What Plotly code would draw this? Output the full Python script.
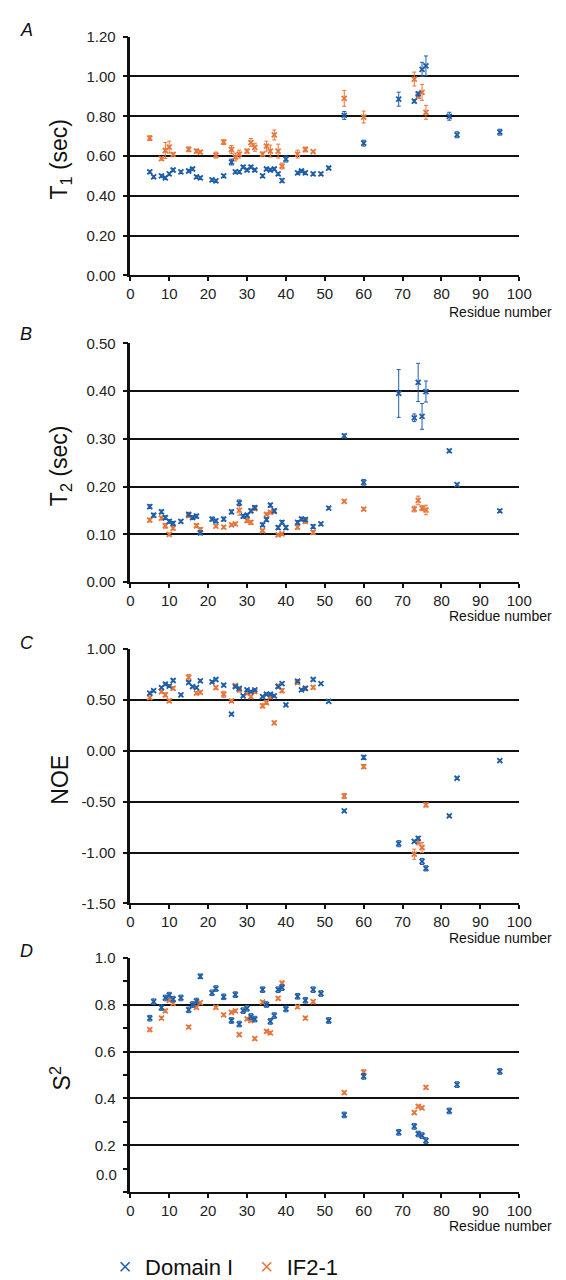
import plotly.graph_objects as go

BLUE = "#1f5ea8"
ORANGE = "#e8763a"
FONT = "Liberation Sans, Arial, sans-serif"

# ---------------- Panel A: T1 ----------------
a_dom_res = [5,6,8,9,10,11,13,15,16,17,18,21,22,24,26,27,28,29,30,31,32,34,35,36,37,38,39,40,43,44,45,47,49,51,55,60,69,73,74,75,76,82,84,95]
a_dom_val = [0.52,0.495,0.50,0.49,0.51,0.53,0.52,0.525,0.535,0.495,0.49,0.48,0.475,0.50,0.57,0.52,0.52,0.545,0.53,0.545,0.53,0.50,0.535,0.53,0.535,0.51,0.477,0.585,0.515,0.525,0.515,0.51,0.51,0.54,0.804,0.665,0.886,0.876,0.912,1.036,1.053,0.80,0.707,0.72]
a_dom_err = [0.008,0.008,0.008,0.008,0.008,0.008,0.008,0.008,0.008,0.008,0.008,0.008,0.008,0.008,0.015,0.008,0.008,0.008,0.008,0.008,0.008,0.008,0.008,0.008,0.008,0.008,0.008,0.015,0.008,0.008,0.008,0.008,0.008,0.008,0.02,0.015,0.035,0.008,0.01,0.035,0.05,0.02,0.015,0.015]
a_if_res = [5,8,9,10,11,15,17,18,22,24,26,27,28,30,31,32,34,35,36,37,38,39,43,45,47,55,60,73,74,75,76]
a_if_val = [0.69,0.587,0.628,0.645,0.608,0.634,0.625,0.62,0.605,0.67,0.633,0.595,0.61,0.625,0.668,0.644,0.61,0.65,0.625,0.706,0.625,0.55,0.61,0.633,0.622,0.89,0.796,0.987,0.90,0.92,0.82]
a_if_err = [0.012,0.008,0.04,0.03,0.008,0.012,0.01,0.008,0.015,0.012,0.02,0.02,0.02,0.01,0.02,0.02,0.01,0.025,0.03,0.025,0.035,0.015,0.02,0.012,0.005,0.04,0.03,0.035,0.01,0.04,0.035]

# ---------------- Panel B: T2 ----------------
b_dom_res = [5,6,8,9,10,11,13,15,16,17,18,21,22,24,26,28,29,30,31,32,34,35,36,37,38,39,40,43,44,45,47,49,51,55,60,69,73,74,75,76,82,84,95]
b_dom_val = [0.158,0.140,0.147,0.135,0.127,0.123,0.127,0.142,0.135,0.138,0.103,0.132,0.128,0.132,0.147,0.166,0.138,0.140,0.149,0.156,0.120,0.131,0.161,0.149,0.114,0.125,0.114,0.125,0.132,0.131,0.116,0.122,0.155,0.306,0.209,0.395,0.344,0.418,0.347,0.399,0.275,0.204,0.149]
b_dom_err = [0.004,0.004,0.004,0.004,0.004,0.004,0.003,0.004,0.004,0.004,0.004,0.004,0.004,0.004,0.004,0.006,0.004,0.004,0.004,0.004,0.004,0.004,0.004,0.004,0.004,0.004,0.004,0.004,0.004,0.004,0.004,0.003,0.003,0.004,0.006,0.05,0.008,0.04,0.027,0.022,0.003,0.003,0.003]
b_if_res = [5,8,9,10,11,15,17,18,22,24,26,27,28,30,31,32,34,35,36,37,38,39,43,45,47,55,60,73,74,75,76]
b_if_val = [0.130,0.134,0.118,0.100,0.113,0.139,0.118,0.110,0.117,0.115,0.120,0.122,0.150,0.129,0.125,0.154,0.108,0.142,0.146,0.148,0.099,0.101,0.115,0.127,0.104,0.169,0.153,0.153,0.171,0.155,0.151]
b_if_err = [0.004,0.004,0.005,0.003,0.004,0.004,0.004,0.004,0.003,0.003,0.003,0.003,0.01,0.004,0.004,0.004,0.003,0.003,0.003,0.003,0.003,0.003,0.004,0.004,0.004,0.003,0.003,0.006,0.009,0.005,0.01]

# ---------------- Panel C: NOE ----------------
c_dom_res = [5,6,8,9,10,11,13,15,16,17,18,21,22,24,26,27,28,29,30,31,32,34,35,36,37,38,39,40,43,44,45,47,49,51,55,60,69,73,74,75,76,82,84,95]
c_dom_val = [0.565,0.59,0.62,0.655,0.635,0.69,0.55,0.67,0.63,0.62,0.687,0.677,0.70,0.645,0.36,0.63,0.613,0.54,0.597,0.58,0.597,0.532,0.555,0.555,0.54,0.63,0.66,0.45,0.684,0.597,0.613,0.70,0.66,0.484,-0.59,-0.065,-0.913,-0.89,-0.86,-1.087,-1.155,-0.64,-0.27,-0.097]
c_dom_err = [0.012,0.012,0.012,0.012,0.012,0.012,0.01,0.012,0.012,0.012,0.012,0.012,0.012,0.012,0.01,0.012,0.012,0.01,0.012,0.012,0.012,0.012,0.012,0.012,0.012,0.012,0.012,0.01,0.012,0.012,0.012,0.012,0.01,0.01,0.012,0.02,0.03,0.012,0.015,0.03,0.025,0.01,0.01,0.01]
c_if_res = [5,8,9,10,11,15,17,18,22,24,26,27,28,30,31,32,34,35,36,37,38,39,43,45,47,55,60,73,74,75,76]
c_if_val = [0.523,0.58,0.55,0.49,0.613,0.72,0.565,0.574,0.62,0.555,0.49,0.64,0.597,0.565,0.532,0.58,0.442,0.474,0.532,0.274,0.635,0.59,0.67,0.613,0.622,-0.445,-0.155,-1.016,-0.894,-0.95,-0.532]
c_if_err = [0.015,0.015,0.02,0.015,0.015,0.03,0.015,0.015,0.015,0.03,0.015,0.015,0.02,0.015,0.015,0.015,0.02,0.02,0.02,0.015,0.02,0.02,0.015,0.02,0.015,0.025,0.02,0.05,0.03,0.05,0.02]

# ---------------- Panel D: S2 ----------------
d_dom_res = [5,6,8,9,10,11,13,15,16,17,18,21,22,24,26,27,28,29,30,31,32,34,35,36,37,38,39,40,43,45,47,49,51,55,60,69,73,74,75,76,82,84,95]
d_dom_val = [0.742,0.812,0.787,0.828,0.84,0.823,0.828,0.777,0.80,0.815,0.92,0.85,0.868,0.833,0.732,0.842,0.717,0.774,0.784,0.749,0.738,0.863,0.80,0.728,0.753,0.863,0.872,0.781,0.835,0.818,0.863,0.847,0.732,0.33,0.494,0.256,0.281,0.249,0.242,0.221,0.347,0.459,0.515]
d_dom_err = [0.012,0.012,0.012,0.012,0.012,0.012,0.012,0.012,0.012,0.012,0.01,0.012,0.012,0.012,0.012,0.012,0.012,0.012,0.012,0.012,0.012,0.012,0.012,0.012,0.012,0.012,0.012,0.012,0.012,0.012,0.012,0.012,0.012,0.012,0.012,0.012,0.012,0.012,0.012,0.012,0.012,0.012,0.012]
d_if_res = [5,8,9,10,11,15,17,18,22,24,26,27,28,30,31,32,34,35,36,38,39,43,45,47,55,60,73,74,75,76]
d_if_val = [0.693,0.742,0.773,0.818,0.805,0.704,0.788,0.808,0.788,0.756,0.767,0.773,0.672,0.739,0.732,0.655,0.81,0.686,0.679,0.826,0.891,0.79,0.742,0.812,0.425,0.512,0.34,0.366,0.36,0.447]
d_if_err = [0.006,0.006,0.006,0.006,0.006,0.006,0.006,0.006,0.006,0.006,0.006,0.006,0.006,0.006,0.006,0.006,0.006,0.006,0.006,0.006,0.008,0.006,0.006,0.006,0.006,0.01,0.006,0.006,0.006,0.006]

# tick labels
a_ticks = [0.0, 0.2, 0.4, 0.6, 0.8, 1.0, 1.2]
a_labels = ["0.00", "0.20", "0.40", "0.60", "0.80", "1.00", "1.20"]
b_ticks = [0.0, 0.1, 0.2, 0.3, 0.4, 0.5]
b_labels = ["0.00", "0.10", "0.20", "0.30", "0.40", "0.50"]
c_ticks = [-1.5, -1.0, -0.5, 0.0, 0.5, 1.0]
c_labels = ["-1.50", "-1.00", "-0.50", "0.00", "0.50", "1.00"]
d_ticks = [0.2, 0.4, 0.6, 0.8, 1.0]
d_labels = ["0.2", "0.4", "0.6", "0.8", "1.0"]
x_ticks = [0, 10, 20, 30, 40, 50, 60, 70, 80, 90, 100]

W, H = 566, 1280
X_LEFT, X_RIGHT = 122, 523
panels = [
    # (top px, bottom px, y range, ticks, labels, title, letter, letter y, xlabel y)
    (20, 263, [0, 1.2], a_ticks, a_labels, "T<sub>1</sub> (sec)", "A", 13, 300),
    (332, 575, [0, 0.5], b_ticks, b_labels, "T<sub>2</sub> (sec)", "B", 323, 609),
    (643, 902, [-1.5, 1.0], c_ticks, c_labels, "NOE", "C", 637, 937),
    (957, 1196, [0, 1.0], d_ticks, d_labels, "S<sup>2</sup>", "D", 950, 1230),
]
series = [
    (a_dom_res, a_dom_val, a_dom_err, a_if_res, a_if_val, a_if_err),
    (b_dom_res, b_dom_val, b_dom_err, b_if_res, b_if_val, b_if_err),
    (c_dom_res, c_dom_val, c_dom_err, c_if_res, c_if_val, c_if_err),
    (d_dom_res, d_dom_val, d_dom_err, d_if_res, d_if_val, d_if_err),
]

def py(p):
    return 1 - p / H

fig = go.Figure()
annotations = []
layout = {}
for i, (panel, ser) in enumerate(zip(panels, series)):
    top, bot, yr, tv, tl, title, letter, ly, xly = panel
    n = "" if i == 0 else str(i + 1)
    xa, ya = "x" + n, "y" + n
    dr, dv, de, ir, iv, ie = ser
    for res, val, err, col, name in [(ir, iv, ie, ORANGE, "IF2-1"), (dr, dv, de, BLUE, "Domain I")]:
        fig.add_trace(go.Scatter(
            x=res, y=val, mode="markers", name=name, xaxis=xa, yaxis=ya,
            showlegend=False, cliponaxis=False,
            marker=dict(symbol="x-thin", size=5, color=col, line=dict(color=col, width=1.8)),
            error_y=dict(type="data", array=err, visible=True, color=col, thickness=1, width=2),
        ))
    layout["xaxis" + n] = dict(
        domain=[X_LEFT / W, X_RIGHT / W], range=[0, 100], anchor=ya,
        tickvals=x_ticks, ticks="outside", ticklen=4, tickwidth=1.5, tickcolor="#111",
        showline=True, linecolor="#111", linewidth=2, showgrid=False, zeroline=False,
        ticklabelstandoff=0,
        tickfont=dict(family=FONT, size=15, color="#222"),
    )
    ydict = dict(
        domain=[py(bot), py(top)], range=yr, anchor=xa,
        tickvals=tv, ticktext=tl, ticks="outside", ticklen=5, tickwidth=1.5, tickcolor="#111",
        showline=True, linecolor="#111", linewidth=2.5,
        showgrid=True, gridcolor="#111", gridwidth=1.6, zeroline=False,
        ticklabelstandoff=4,
        tickfont=dict(family=FONT, size=15, color="#222"),
    )
    if letter == "D":
        ydict["minor"] = dict(dtick=0.1, tick0=0, ticks="outside", ticklen=5, tickcolor="#111", showgrid=False)
    layout["yaxis" + n] = ydict
    annotations.append(dict(
        text=title, x=50 / W, y=py((top + bot) / 2 + 3), xref="paper", yref="paper",
        textangle=-90, showarrow=False, xanchor="center", yanchor="middle",
        font=dict(family=FONT, size=23, color="#111"),
    ))
    annotations.append(dict(
        text="<i>" + letter + "</i>", x=6 / W, y=py(ly), xref="paper", yref="paper",
        showarrow=False, xanchor="left", yanchor="middle",
        font=dict(family=FONT, size=18, color="#111"),
    ))
    annotations.append(dict(
        text="Residue number", x=559 / W, y=py(xly), xref="paper", yref="paper",
        showarrow=False, xanchor="right", yanchor="middle",
        font=dict(family=FONT, size=14, color="#111"),
    ))

# the displaced "0.0" label of panel D
annotations.append(dict(
    text="0.0", x=110 / W, y=py(1178), xref="paper", yref="paper",
    showarrow=False, xanchor="right", yanchor="middle",
    font=dict(family=FONT, size=15, color="#222"),
))

# legend entries (two legends for exact placement)
legend_names = ["Domain I", "IF2-1"]
legend_colors = [BLUE, ORANGE]
for k, (col, name) in enumerate(zip(legend_colors, legend_names)):
    fig.add_trace(go.Scatter(
        x=[None], y=[None], mode="markers", name=name, xaxis="x4", yaxis="y4",
        legend="legend" if k == 0 else "legend2",
        marker=dict(symbol="x-thin", size=9, color=col, line=dict(color=col, width=1.6)),
    ))

leg_common = dict(orientation="h", yanchor="middle", y=py(1272), xanchor="left",
                  font=dict(family=FONT, size=22, color="#111"), itemwidth=30,
                  bgcolor="rgba(0,0,0,0)")
fig.update_layout(
    width=W, height=H, margin=dict(l=0, r=0, t=0, b=0),
    paper_bgcolor="white", plot_bgcolor="white",
    annotations=annotations,
    showlegend=True,
    legend=dict(x=96 / W, **leg_common),
    legend2=dict(x=242 / W, **leg_common),
    **layout,
)
fig.write_html("out.html")
